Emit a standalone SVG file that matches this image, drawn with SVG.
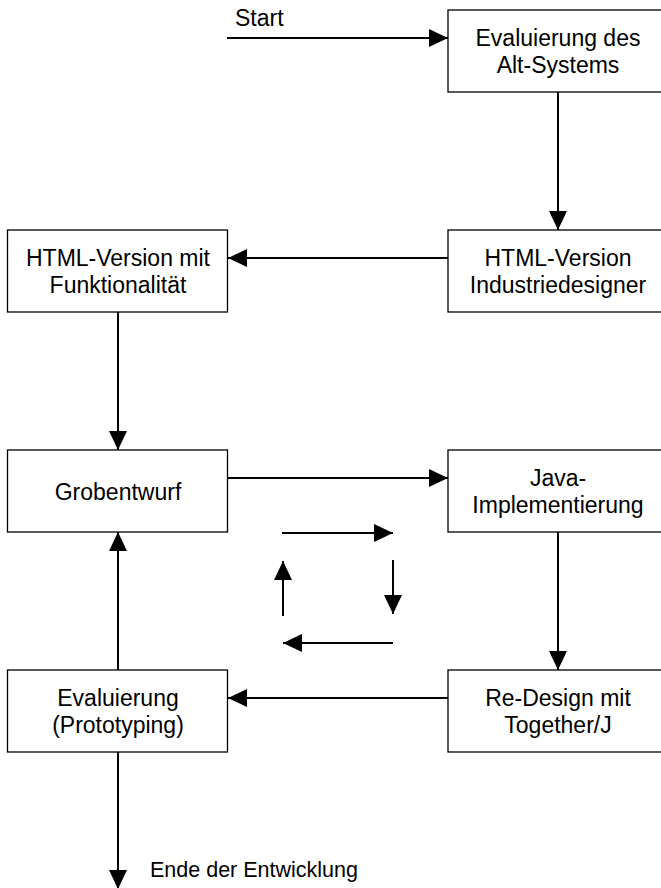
<svg xmlns="http://www.w3.org/2000/svg" width="661" height="888" viewBox="0 0 661 888">
<defs>
<style>
.box{fill:#fff;stroke:#000;stroke-width:1.3}
.t{font-family:"Liberation Sans",Arial,sans-serif;font-size:23px;fill:#000;text-anchor:middle}
.l{font-family:"Liberation Sans",Arial,sans-serif;font-size:23px;fill:#000}
.c{stroke:#000;stroke-width:2;fill:none;marker-end:url(#ah)}
</style>
<marker id="ah" markerUnits="userSpaceOnUse" markerWidth="20" markerHeight="18" refX="19" refY="9" orient="auto">
<path d="M0,0 L19,9 L0,18 z" fill="#000"/>
</marker>
</defs>
<rect width="661" height="888" fill="#fff"/>
<g id="connectors">
<line class="c" x1="227" y1="38" x2="448" y2="38"/>
<line class="c" x1="558" y1="92" x2="558" y2="230"/>
<line class="c" x1="448" y1="258" x2="228" y2="258"/>
<line class="c" x1="118" y1="312" x2="118" y2="450"/>
<line class="c" x1="228" y1="478" x2="448" y2="478"/>
<line class="c" x1="558" y1="532" x2="558" y2="670"/>
<line class="c" x1="448" y1="698" x2="228" y2="698"/>
<line class="c" x1="118" y1="670" x2="118" y2="532"/>
<line class="c" x1="118" y1="752" x2="118" y2="889"/>
<line class="c" x1="282" y1="533" x2="393" y2="533"/>
<line class="c" x1="393" y1="560" x2="393" y2="614"/>
<line class="c" x1="393" y1="643" x2="283" y2="643"/>
<line class="c" x1="283" y1="616" x2="283" y2="561"/>
</g>
<g id="labels">
<text class="l" x="235" y="26">Start</text>
<text class="l" x="150" y="877" style="font-size:21.5px">Ende der Entwicklung</text>
</g>
<g id="n1">
<rect class="box" x="448" y="10" width="222" height="82"/>
<text class="t" x="558" y="46">Evaluierung des</text>
<text class="t" x="558" y="73">Alt-Systems</text>
</g>
<g id="n2">
<rect class="box" x="448" y="230" width="222" height="82"/>
<text class="t" x="558" y="266">HTML-Version</text>
<text class="t" x="558" y="293">Industriedesigner</text>
</g>
<g id="n3">
<rect class="box" x="7.5" y="230" width="220" height="82"/>
<text class="t" x="118" y="266">HTML-Version mit</text>
<text class="t" x="118" y="293">Funktionalität</text>
</g>
<g id="n4">
<rect class="box" x="7.5" y="450" width="220" height="82"/>
<text class="t" x="118" y="500">Grobentwurf</text>
</g>
<g id="n5">
<rect class="box" x="448" y="450" width="222" height="82"/>
<text class="t" x="558" y="486">Java-</text>
<text class="t" x="558" y="513">Implementierung</text>
</g>
<g id="n6">
<rect class="box" x="448" y="670" width="222" height="82"/>
<text class="t" x="558" y="706">Re-Design mit</text>
<text class="t" x="558" y="733">Together/J</text>
</g>
<g id="n7">
<rect class="box" x="7.5" y="670" width="220" height="82"/>
<text class="t" x="118" y="706">Evaluierung</text>
<text class="t" x="118" y="733">(Prototyping)</text>
</g>
</svg>
